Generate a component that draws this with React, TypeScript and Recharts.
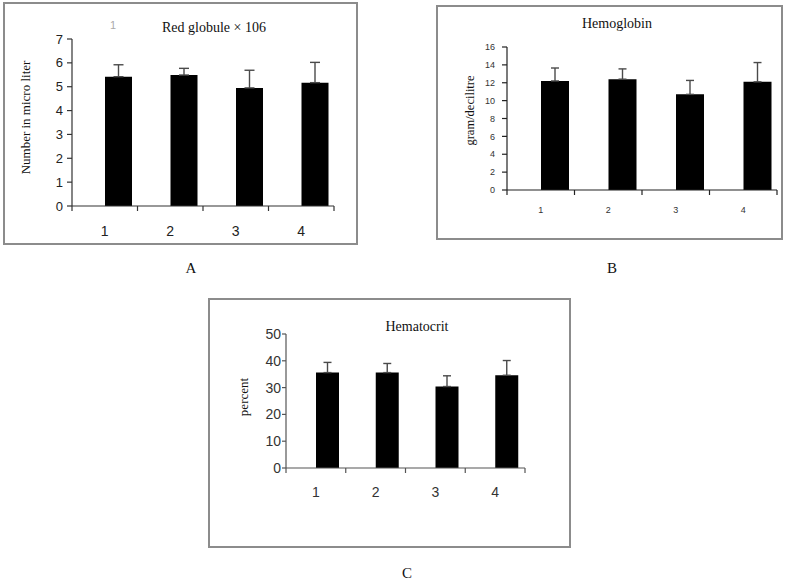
import React from 'react';
import { BarChart, Bar, XAxis, YAxis, ErrorBar } from 'recharts';

const groups = ['1', '2', '3', '4'];

const redGlobuleMeans = [5.42, 5.49, 4.95, 5.17];
const redGlobuleErrors = [0.5, 0.28, 0.74, 0.85];
const redGlobuleTicks = [0, 1, 2, 3, 4, 5, 6, 7];

const hemoglobinMeans = [12.2, 12.4, 10.7, 12.1];
const hemoglobinErrors = [1.45, 1.15, 1.56, 2.16];
const hemoglobinTicks = [0, 2, 4, 6, 8, 10, 12, 14, 16];

const hematocritMeans = [35.6, 35.6, 30.4, 34.6];
const hematocritErrors = [3.8, 3.4, 4.0, 5.5];
const hematocritTicks = [0, 10, 20, 30, 40, 50];

const SANS = '"Liberation Sans", Arial, sans-serif';
const SERIF = '"Liberation Serif", "Times New Roman", serif';

// spacer is an empty series: it only takes the left slot of each band
const buildRows = (means: number[], errors: number[]) =>
  groups.map((group, i) => ({ group, spacer: 0, mean: means[i], error: errors[i] }));

interface PanelProps {
  means: number[];
  errors: number[];
  ticks: number[];
  left: number;
  top: number;
  width: number;
  height: number;
  margin: { top: number; right: number; bottom: number; left: number };
  barSize: number;
  capWidth: number;
  tickFont: number;
  tickColor: string;
  axisColor: string;
  yTickSize: number;
  yTickMargin: number;
  xGap: number;
  xFont: number;
  yLabel: string;
  yLabelFont: number;
  yLabelDx: number;
  yLabelDy: number;
}

// category labels sit in the middle of each band, tick marks on the band edges
const CategoryTick = (props: any) => {
  const { x, y, payload, index, gap, fontSize, color, axisColor } = props;
  const half = payload.offset ?? 0;
  const axisY = y - gap;
  return (
    <g>
      <line x1={x - half} x2={x - half} y1={axisY} y2={axisY + 5} stroke={axisColor} strokeWidth={1.2} />
      {index === groups.length - 1 && (
        <line x1={x + half} x2={x + half} y1={axisY} y2={axisY + 5} stroke={axisColor} strokeWidth={1.2} />
      )}
      <text x={x} y={y} dy="0.72em" textAnchor="middle" fontSize={fontSize} fill={color} fontFamily={SANS}>
        {payload.value}
      </text>
    </g>
  );
};

const Panel = (p: PanelProps) => {
  const rows = buildRows(p.means, p.errors);
  const max = p.ticks[p.ticks.length - 1];
  return (
    <div style={{ position: 'absolute', left: p.left, top: p.top }}>
      <BarChart width={p.width} height={p.height} data={rows} margin={p.margin} barGap={0} barSize={p.barSize}>
        <XAxis
          dataKey="group"
          interval={0}
          height={30}
          tickSize={0}
          tickMargin={p.xGap}
          tickLine={false}
          axisLine={{ stroke: p.axisColor, strokeWidth: 1.2 }}
          tick={(t: any) => (
            <CategoryTick {...t} gap={p.xGap} fontSize={p.xFont} color={p.tickColor} axisColor={p.axisColor} />
          )}
        />
        <YAxis
          type="number"
          domain={[0, max]}
          ticks={p.ticks}
          interval={0}
          width={40}
          tickSize={p.yTickSize}
          tickMargin={p.yTickMargin}
          axisLine={{ stroke: p.axisColor, strokeWidth: 1.2 }}
          tickLine={{ stroke: p.axisColor, strokeWidth: 1.2 }}
          tick={{ fontSize: p.tickFont, fill: p.tickColor, fontFamily: SANS }}
          label={{
            content: (lp: any) => {
              const vb = lp.viewBox || { x: 0, y: 0, width: 0, height: 0 };
              const cx = vb.x + p.yLabelDx;
              const cy = vb.y + vb.height / 2 + p.yLabelDy;
              return (
                <text
                  x={cx}
                  y={cy}
                  transform={`rotate(-90 ${cx} ${cy})`}
                  textAnchor="middle"
                  dominantBaseline="central"
                  fontSize={p.yLabelFont}
                  fontFamily={SERIF}
                  fill="#111"
                >
                  {p.yLabel}
                </text>
              );
            },
          }}
        />
        <Bar dataKey="spacer" fill="transparent" isAnimationActive={false} />
        <Bar dataKey="mean" fill="#000" isAnimationActive={false}>
          <ErrorBar
            dataKey={(d: any) => [0, d.error]}
            width={p.capWidth}
            stroke="#4a4a4a"
            strokeWidth={1.4}
            isAnimationActive={false}
          />
        </Bar>
      </BarChart>
    </div>
  );
};

const Frame = ({ left, top, width, height }: { left: number; top: number; width: number; height: number }) => (
  <div
    style={{
      position: 'absolute',
      left,
      top,
      width,
      height,
      border: '2px solid #8c8c8c',
      boxSizing: 'border-box',
      pointerEvents: 'none',
    }}
  />
);

const Caption = ({ x, y, text, size, color = '#111', family = SERIF }: any) => (
  <div
    style={{
      position: 'absolute',
      left: x,
      top: y,
      transform: 'translate(-50%, -50%)',
      fontFamily: family,
      fontSize: size,
      color,
      whiteSpace: 'nowrap',
      lineHeight: 1,
    }}
  >
    {text}
  </div>
);

export default function App() {
  return (
    <div style={{ position: 'absolute', left: 0, top: 0, width: 795, height: 580, background: '#fff', overflow: 'hidden' }}>
      <Frame left={3} top={2} width={355} height={243} />
      <Panel
        means={redGlobuleMeans}
        errors={redGlobuleErrors}
        ticks={redGlobuleTicks}
        left={3}
        top={2}
        width={355}
        height={243}
        margin={{ top: 37, right: 24, bottom: 9, left: 29 }}
        barSize={27}
        capWidth={5}
        tickFont={13}
        tickColor="#222"
        axisColor="#333"
        yTickSize={5}
        yTickMargin={4}
        xGap={20}
        xFont={14}
        yLabel="Number in micro liter"
        yLabelFont={13}
        yLabelDx={-7}
        yLabelDy={-5}
      />
      <Caption x={113} y={25} text="1" size={11} color="#aaa" family={SANS} />
      <Caption x={214} y={28} text="Red globule × 106" size={14} />
      <Caption x={191} y={268} text="A" size={15} />

      <Frame left={436} top={5} width={347} height={235} />
      <Panel
        means={hemoglobinMeans}
        errors={hemoglobinErrors}
        ticks={hemoglobinTicks}
        left={436}
        top={5}
        width={347}
        height={235}
        margin={{ top: 42, right: 6, bottom: 20, left: 31 }}
        barSize={28}
        capWidth={4}
        tickFont={9}
        tickColor="#333"
        axisColor="#222"
        yTickSize={5}
        yTickMargin={7}
        xGap={17}
        xFont={9}
        yLabel="gram/decilitre"
        yLabelFont={12.5}
        yLabelDx={3}
        yLabelDy={-8}
      />
      <Caption x={617} y={24} text="Hemoglobin" size={14} />
      <Caption x={612} y={268} text="B" size={15} />

      <Frame left={208} top={298} width={363} height={250} />
      <Panel
        means={hematocritMeans}
        errors={hematocritErrors}
        ticks={hematocritTicks}
        left={208}
        top={298}
        width={363}
        height={250}
        margin={{ top: 36, right: 46, bottom: 50, left: 38 }}
        barSize={23}
        capWidth={4}
        tickFont={14}
        tickColor="#333"
        axisColor="#555"
        yTickSize={4}
        yTickMargin={1}
        xGap={19}
        xFont={14}
        yLabel="percent"
        yLabelFont={13}
        yLabelDx={-3}
        yLabelDy={-4}
      />
      <Caption x={417} y={327} text="Hematocrit" size={14} />
      <Caption x={407} y={573} text="C" size={15} />
    </div>
  );
}
